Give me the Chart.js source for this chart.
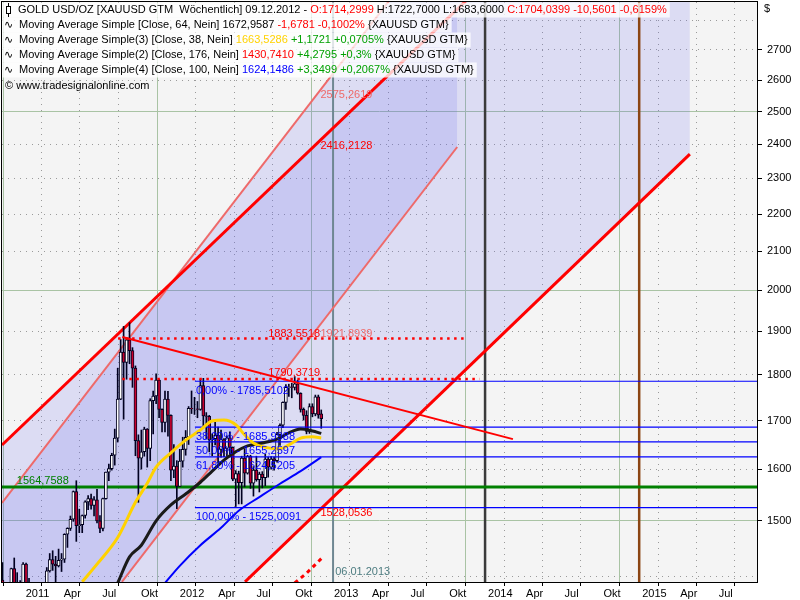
<!DOCTYPE html>
<html>
<head>
<meta charset="utf-8">
<script src="https://cdn.jsdelivr.net/npm/chart.js@4.4.0/dist/chart.umd.min.js"></script>
<style>
  html, body { margin: 0; padding: 0; background: #fff; }
  canvas { display: block; }
</style>
</head>
<body>
<canvas id="chart" width="800" height="600"></canvas>
<script>
// weekly bars, each dated by the Sunday after its trading week
const firstWeek = '2010-11-07';
const open = [1358,1393,1366,1352,1364,1413,1386,1377,1380,1421,
  1369,1361,1343,1340,1348,1361,1388,1409,1429,1421,
  1418,1428,1430,1475,1486,1503,1556,1491,1493,1510,
  1536,1542,1529,1540,1500,1486,1542,1594,1601,1628,
  1663,1746,1852,1828,1880,1855,1815,1658,1622,1635,
  1682,1642,1743,1753,1788,1724,1696,1746,1711,1598,
  1606,1566,1616,1640,1665,1726,1725,1725,1724,1776,
  1710,1709,1660,1662,1669,1640,1660,1642,1664,1644,
  1580,1591,1573,1622,1592,1626,1572,1598,1579,1590,
  1583,1620,1604,1620,1617,1671,1690,1739,1772,1773,
  1772,1780,1759,1724,1711,1677,1730,1714,1751,1714.3];
const high = [1398,1424,1370,1379,1414,1432,1406,1392,1424,1423,
  1396,1374,1349,1369,1375,1389,1415,1440,1445,1435,
  1448,1440,1476,1487,1509,1557,1577,1522,1511,1538,
  1548,1551,1546,1560,1510,1543,1594,1610,1632,1682,
  1815,1881,1912,1886,1921,1862,1820,1670,1680,1686,
  1683,1747,1764,1802,1790,1725,1764,1763,1712,1650,
  1617,1640,1665,1679,1730,1764,1750,1741,1790,1792,
  1717,1711,1672,1696,1686,1680,1662,1668,1676,1645,
  1597,1596,1626,1641,1628,1628,1605,1626,1594,1595,
  1630,1624,1625,1624,1675,1693,1740,1778,1779,1781,
  1796,1788,1760,1727,1721,1736,1736,1755,1755,1722.7];
const low = [1344,1358,1330,1338,1356,1381,1361,1372,1376,1353,
  1360,1334,1309,1331,1341,1356,1381,1407,1410,1381,
  1416,1408,1424,1451,1482,1499,1462,1478,1478,1505,
  1521,1522,1509,1496,1478,1481,1541,1577,1598,1608,
  1655,1745,1703,1790,1825,1772,1627,1535,1600,1626,
  1604,1617,1672,1736,1706,1676,1676,1667,1577,1583,
  1523,1566,1604,1628,1650,1715,1713,1706,1722,1688,
  1662,1635,1627,1649,1612,1624,1625,1626,1630,1577,
  1527,1532,1532,1565,1590,1562,1547,1576,1555,1563,
  1567,1584,1600,1598,1614,1648,1685,1724,1752,1749,
  1766,1757,1718,1701,1672,1673,1708,1710,1705,1683.6];
const close = [1393,1366,1352,1364,1413,1386,1377,1380,1421,1369,
  1361,1343,1340,1348,1361,1388,1409,1429,1421,1418,
  1428,1430,1475,1486,1503,1556,1491,1493,1510,1536,
  1542,1529,1540,1500,1486,1542,1594,1601,1628,1663,
  1746,1852,1828,1880,1855,1815,1658,1622,1635,1682,
  1642,1743,1753,1788,1724,1696,1746,1711,1598,1606,
  1566,1616,1640,1665,1726,1725,1725,1724,1776,1710,
  1709,1660,1662,1669,1640,1660,1642,1664,1644,1580,
  1591,1573,1622,1592,1626,1572,1598,1579,1590,1583,
  1620,1604,1620,1617,1671,1690,1739,1772,1773,1772,
  1780,1759,1724,1711,1677,1730,1714,1751,1712,1704.04];

// moving averages (bar index -> value)
const ma38Weeks  = [28, 33, 40, 46, 50, 53, 58, 63, 68, 72, 76, 80, 83, 86, 91, 95, 98, 102, 106, 109];
const ma38       = [1390, 1421, 1469, 1535, 1572, 1604, 1633, 1659, 1680, 1699, 1701, 1691, 1670, 1653, 1643, 1641, 1649, 1663, 1666, 1663.53];
const ma64Weeks  = [40, 44, 48, 53, 58, 63, 68, 72, 76, 80, 84, 89, 94, 98, 102, 106, 109];
const ma64       = [1388, 1434, 1455, 1500, 1530, 1551, 1574, 1596, 1618, 1635, 1647, 1653, 1661, 1674, 1682, 1678, 1672.96];
const ma100Weeks = [56, 61, 68, 75, 81, 88, 95, 102, 109];
const ma100      = [1388, 1418, 1455, 1487, 1519, 1545, 1571, 1596, 1624.15];
const ma176Weeks = [100, 104, 109];
const ma176      = [1388, 1405, 1430.74];

// trend channel lines: [date, price] end points
const upperLine  = [['2010-11-13', 1649], ['2013-12-06', 2899]];
const upperInner = [['2010-11-13', 1534], ['2013-06-02', 2899]];
const lowerInner = [['2011-08-24', 1390], ['2013-10-27', 2392]];
const lowerLine  = [['2012-06-11', 1390], ['2015-05-01', 2371]];
const downTrend  = [['2011-08-25', 1887], ['2014-03-08', 1661]];

// shaded channel bands (shared dates for top and bottom edge)
const outerBandDates  = ['2010-11-13', '2011-12-23', '2012-06-11', '2013-06-02', '2015-05-01'];
const outerBandTop    = [1649, 2023, 2273, 2899, 2899];
const outerBandBottom = [1300, 1300, 1390, 1664, 2371];
const innerBandDates  = ['2010-11-13', '2011-08-24', '2011-12-23', '2013-10-27'];
const innerBandTop    = [1534, 1861, 2023, 2841];
const innerBandBottom = [1300, 1390, 1510, 2392];

const fibStart  = '2012-02-13';
const fibPrices = [1785.5102, 1685.9988, 1655.2597, 1624.5205, 1525.0091];
const fibLabels = ['0,00% - 1785,5102', '38,20% - 1685,9988', '50,00% - 1655,2597', '61,80% - 1624,5205', '100,00% - 1525,0091'];
const supportPrice = 1564.7588;
const dottedLevels = [
  { price: 1883.5518, from: '2011-08-15', to: '2013-11-21' },
  { price: 1790.3719, from: '2011-08-25', to: '2013-12-19' },
];
const markerDates = ['2013-01-06', '2014-01-01', '2015-01-01'];

const xStart = '2010-11-13', xEnd = '2015-10-07';
const yMin = 1389.7, yMax = 2866.7;
const yTicks = [1400, 1500, 1600, 1700, 1800, 1900, 2000, 2100, 2200, 2300, 2400, 2500, 2600, 2700, 2800];
const xTickDates = ['2011-01-01','2011-04-01','2011-07-01','2011-10-01','2012-01-01','2012-04-01','2012-07-01','2012-10-01',
  '2013-01-01','2013-04-01','2013-07-01','2013-10-01','2014-01-01','2014-04-01','2014-07-01','2014-10-01',
  '2015-01-01','2015-04-01','2015-07-01'];
const xTickLabels = ['2011','Apr','Jul','Okt','2012','Apr','Jul','Okt','2013','Apr','Jul','Okt',
  '2014','Apr','Jul','Okt','2015','Apr','Jul'];

const SALMON = '#ee6a6a', RED = '#ff0000', BLUE = '#0000ff', GREEN = '#008000';
const notes = [
  { text: '2575,2619', date: '2012-12-07', price: 2553, color: SALMON },
  { text: '2416,2128', date: '2012-12-07', price: 2395, color: RED },
  { text: '1883,5518', date: '2012-08-05', price: 1894, color: RED },
  { text: '1921,8939', date: '2012-12-07', price: 1894, color: SALMON },
  { text: '1790,3719', date: '2012-08-05', price: 1804, color: RED },
  { text: '1564,7588', date: '2010-12-18', price: 1576.5, color: GREEN },
  { text: '1528,0536', date: '2012-12-07', price: 1515, color: RED },
  { text: '06.01.2013', date: '2013-01-11', price: 1407, color: '#4d7c80' },
];

const K = '#000000', Y = '#ffd200', G = '#00a000';
const headerRows = [
  [['GOLD USD/OZ [XAUUSD GTM  Wöchentlich] 09.12.2012 - ', K], ['O:1714,2999', RED], [' H:1722,7000 L:1683,6000 ', K], ['C:1704,0399 -10,5601 -0,6159%', RED]],
  [['Moving Average Simple [Close, 64, Nein] 1672,9587 ', K], ['-1,6781 -0,1002%', RED], [' {XAUUSD GTM}', K]],
  [['Moving Average Simple(3) [Close, 38, Nein] ', K], ['1663,5286', Y], [' +1,1721 +0,0705%', G], [' {XAUUSD GTM}', K]],
  [['Moving Average Simple(2) [Close, 176, Nein] ', K], ['1430,7410', RED], [' +4,2795 +0,3%', G], [' {XAUUSD GTM}', K]],
  [['Moving Average Simple(4) [Close, 100, Nein] ', K], ['1624,1486', BLUE], [' +3,3499 +0,2067%', G], [' {XAUUSD GTM}', K]],
];
const copyright = '© www.tradesignalonline.com';

// ---- helpers ----
const toYear = iso => {
  const t = Date.parse(iso + 'T00:00:00Z');
  const y = new Date(t).getUTCFullYear();
  const a = Date.UTC(y, 0, 1), b = Date.UTC(y + 1, 0, 1);
  return y + (t - a) / (b - a);
};
const week0 = Date.parse(firstWeek + 'T00:00:00Z');
const weekX = i => toYear(new Date(week0 + i * 7 * 864e5).toISOString().slice(0, 10));
const pts = pairs => pairs.map(([d, p]) => ({ x: toYear(d), y: p }));
const zip = (dates, vals) => dates.map((d, i) => ({ x: toYear(d), y: vals[i] }));
const maPts = (weeks, vals) => weeks.map((w, i) => ({ x: weekX(w), y: vals[i] }));
const line = (data, color, width, order, extra = {}) => ({
  type: 'line', data, borderColor: color, borderWidth: width, pointRadius: 0,
  fill: false, tension: 0, order, ...extra,
});
const band = (data, fill, color, order) => ({
  type: 'line', data, borderColor: 'transparent', borderWidth: 1, pointRadius: 0,
  fill, backgroundColor: color, order,
});

const X0 = toYear(xStart), X1 = toYear(xEnd);
const barX = open.map((_, i) => weekX(i));
const upBar = open.map((o, i) => close[i] >= o);

const datasets = [
  band(zip(outerBandDates, outerBandTop), '+1', 'rgba(100,100,240,0.17)', 100),
  band(zip(outerBandDates, outerBandBottom), false, 'transparent', 100),
  band(zip(innerBandDates, innerBandTop), '+1', 'rgba(100,100,235,0.17)', 99),
  band(zip(innerBandDates, innerBandBottom), false, 'transparent', 99),

  line([{ x: toYear(markerDates[0]), y: 1300 }, { x: toYear(markerDates[0]), y: 3000 }], '#6f8792', 2, 60),
  line([{ x: toYear(markerDates[1]), y: 1300 }, { x: toYear(markerDates[1]), y: 3000 }], '#3a3a3a', 2.5, 60),
  line([{ x: toYear(markerDates[2]), y: 1300 }, { x: toYear(markerDates[2]), y: 3000 }], '#8b4513', 2.5, 60),

  line(pts(upperInner), SALMON, 2, 55),
  line(pts(lowerInner), SALMON, 2, 55),
  line(pts(upperLine), RED, 3, 54),
  line(pts(lowerLine), RED, 3, 54),
  line([{ x: X0, y: supportPrice }, { x: X1, y: supportPrice }], GREEN, 3, 50),

  { type: 'bar', data: barX.map((x, i) => ({ x, y: [low[i], high[i]] })), backgroundColor: '#000020',
    barThickness: 1, grouped: false, order: 40 },
  { type: 'bar', data: barX.map((x, i) => ({ x, y: [open[i], close[i]] })),
    backgroundColor: upBar.map(u => u ? '#ffffff' : '#c8002d'), borderColor: '#000020', borderWidth: 1,
    borderSkipped: false, barThickness: 3, grouped: false, order: 39 },

  ...fibPrices.map(p => line([{ x: toYear(fibStart), y: p }, { x: X1, y: p }], BLUE, 1.2, 30)),
  ...dottedLevels.map(l => line([{ x: toYear(l.from), y: l.price }, { x: toYear(l.to), y: l.price }], RED, 2.5, 25,
    { borderDash: [2.5, 4.5] })),
  line(pts(downTrend), RED, 2, 25),

  line(maPts(ma176Weeks, ma176), '#ff0000', 3, 13, { borderDash: [4, 4] }),
  line(maPts(ma100Weeks, ma100), '#0000ff', 2, 12, { cubicInterpolationMode: 'monotone' }),
  line(maPts(ma64Weeks, ma64), '#1a1a1a', 3, 11, { cubicInterpolationMode: 'monotone' }),
  line(maPts(ma38Weeks, ma38), '#ffd200', 3, 10, { cubicInterpolationMode: 'monotone' }),
];

const FONT = '11px "Liberation Sans", Arial, sans-serif';
const SOLID_GRID = '#a9c3a4', DOT_GRID = '#9a9a9a';
const isYearTick = c => c.tick && c.index % 4 === 0;
const isMajorY = c => c.tick && c.tick.value % 500 === 0;
const labelledY = v => v >= 1500 && v <= 2700;

const decor = {
  id: 'decor',
  beforeDraw(chart) {
    const { ctx, chartArea: a } = chart;
    ctx.save();
    ctx.fillStyle = '#ffffff';
    ctx.fillRect(0, 0, chart.width, chart.height);
    ctx.fillStyle = '#f4f4f4';
    ctx.fillRect(a.left, a.top, a.right - a.left, a.bottom - a.top);
    ctx.restore();
  },
  afterDatasetsDraw(chart) {
    const { ctx, scales: { x, y } } = chart;
    ctx.save();
    ctx.font = FONT;
    ctx.textBaseline = 'middle';
    ctx.textAlign = 'left';

    notes.forEach(n => {
      ctx.fillStyle = n.color;
      ctx.fillText(n.text, x.getPixelForValue(toYear(n.date)), y.getPixelForValue(n.price));
    });
    const fx = x.getPixelForValue(toYear(fibStart)) + 1;
    ctx.fillStyle = BLUE;
    fibPrices.forEach((p, i) => ctx.fillText(fibLabels[i], fx, y.getPixelForValue(p) + 9.5));

    // header lines
    headerRows.forEach((row, r) => {
      const cy = 10 + r * 15;
      const tx = r === 0 ? 18 : 19;
      const w = row.reduce((s, [t]) => s + ctx.measureText(t).width, 0);
      ctx.fillStyle = 'rgba(255,255,255,0.78)';
      ctx.fillRect(2, cy - 7.5, tx + w + 3 - 2, 15);
      let cx = tx;
      row.forEach(([t, c]) => { ctx.fillStyle = c; ctx.fillText(t, cx, cy); cx += ctx.measureText(t).width; });
    });
    // candle icon
    ctx.strokeStyle = '#000'; ctx.lineWidth = 1;
    ctx.beginPath(); ctx.moveTo(8.5, 3); ctx.lineTo(8.5, 17); ctx.stroke();
    ctx.fillStyle = '#fff'; ctx.fillRect(6.5, 6.5, 4, 7); ctx.strokeRect(6.5, 6.5, 4, 7);
    // wave icons
    ctx.font = '11px "DejaVu Sans", sans-serif';
    ctx.fillStyle = '#000';
    for (let r = 1; r < headerRows.length; r++) ctx.fillText('∿', 4, 10 + r * 15);
    ctx.font = FONT;
    ctx.fillText(copyright, 5, 86);

    // frame and axis caption
    ctx.strokeStyle = '#000'; ctx.lineWidth = 1;
    ctx.strokeRect(1.5, 1.5, 756, 581);
    ctx.fillText('$', 764, 9);
    ctx.restore();
  },
};

Chart.defaults.font.family = '"Liberation Sans", Arial, sans-serif';
Chart.defaults.font.size = 11;
Chart.defaults.color = '#000';

new Chart(document.getElementById('chart'), {
  type: 'line',
  data: { datasets },
  options: {
    responsive: false,
    animation: false,
    events: [],
    layout: { padding: { left: 2, top: 2, right: 0, bottom: 0 } },
    plugins: { legend: { display: false }, tooltip: { enabled: false } },
    scales: {
      x: {
        type: 'linear', min: X0, max: X1, offset: false,
        afterBuildTicks: s => { s.ticks = xTickDates.map(d => ({ value: toYear(d) })); },
        afterFit: s => { s.height = 18; s.paddingLeft = 0; s.paddingRight = 0; },
        ticks: { autoSkip: false, maxRotation: 0, align: 'start', padding: 1, color: '#000',
          callback: (v, i) => ' ' + xTickLabels[i] },
        grid: { color: c => isYearTick(c) ? SOLID_GRID : DOT_GRID, lineWidth: 1,
          tickLength: 4, tickColor: '#000', tickWidth: 1 },
        border: { display: false, dash: c => isYearTick(c) ? [] : [1, 5] },
      },
      y: {
        type: 'logarithmic', position: 'right', min: yMin, max: yMax,
        afterBuildTicks: s => { s.ticks = yTicks.map(v => ({ value: v })); },
        afterFit: s => { s.width = 43; s.paddingTop = 0; s.paddingBottom = 0; },
        ticks: { padding: 5, color: '#000', callback: v => labelledY(v) ? String(v) : '' },
        grid: { color: c => isMajorY(c) ? SOLID_GRID : DOT_GRID, lineWidth: 1, tickLength: 5,
          tickColor: c => (c.tick && labelledY(c.tick.value)) ? '#000' : 'transparent', tickWidth: 1 },
        border: { display: false, dash: c => isMajorY(c) ? [] : [1, 5] },
      },
    },
  },
  plugins: [decor],
});
</script>
</body>
</html>
